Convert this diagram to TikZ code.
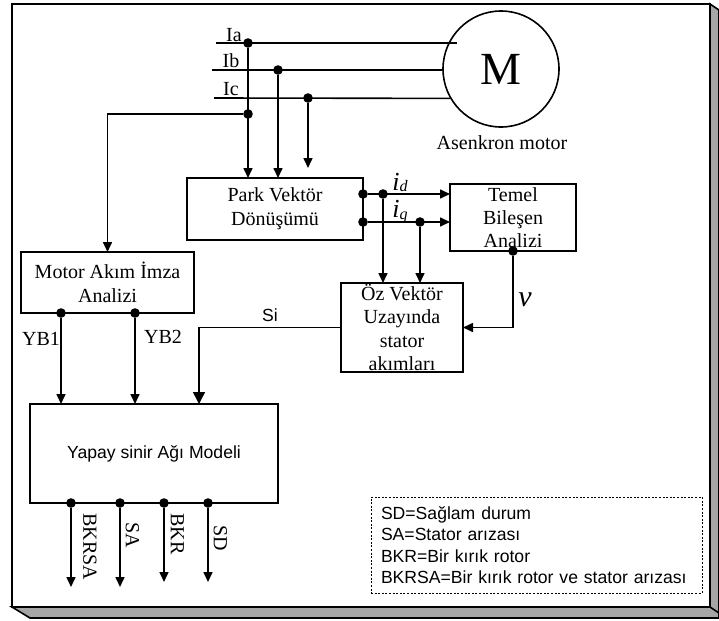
\documentclass[tikz,border=0pt]{standalone}
\usepackage{fontspec}
\setmainfont{Liberation Serif}
\setsansfont{Liberation Sans}
\usetikzlibrary{arrows.meta,positioning,calc}
\definecolor{shadowgray}{RGB}{166,166,166}

\begin{document}
\begin{tikzpicture}[
    x=0.5pt, y=-0.5pt,
    block/.style={rectangle, draw=black, line width=0.8pt, align=center, inner sep=0pt, outer sep=0pt, font=\fontsize{10}{12}\selectfont},
    dot/.style={circle, fill=black, inner sep=0pt, minimum size=4.8pt},
    lbl/.style={inner sep=0pt, font=\fontsize{10}{12}\selectfont},
    sanslbl/.style={inner sep=0pt, font=\sffamily\fontsize{8.8}{10.7}\selectfont},
    curlbl/.style={inner sep=0pt, anchor=base, font=\itshape\fontsize{13}{13}\selectfont},
    wire/.style={line width=0.8pt},
    line/.style={-{Triangle[length=5pt, width=4.5pt]}, line width=0.8pt}
]
\useasboundingbox (0,0) rectangle (719,621);
\filldraw[fill=shadowgray, line width=0.8pt] (710,4) -- (719,10) -- (719,618) -- (30,618) -- (12,607) -- (710,607) -- cycle;
\draw[line width=0.8pt] (710,607) -- (719,613);
\draw[fill=white, line width=1pt] (12,4) rectangle (710,607);

\node[circle, draw, line width=0.8pt, minimum size=58pt, inner sep=0pt, font=\fontsize{23}{25}\selectfont] (motor) at (501,69) {M};
\node[lbl] (motorlab) at (502,143) {Asenkron motor};

\coordinate (aIn) at (216,43);
\coordinate (bIn) at (212,70);
\coordinate (cIn) at (214,98);
\coordinate (aEnd) at (457,43);
\draw[wire] (aIn) -- (aEnd);
\draw[wire] (bIn) -- (bIn -| motor.west);
\draw[wire] (cIn) -- (motor.210);
\node[lbl] (labA) at (234,35) {Ia};
\node[lbl] (labB) at (231,61) {Ib};
\node[lbl] (labC) at (231,89) {Ic};

\node[dot] (dotA) at (248,43) {};
\node[dot] (dotB) at (278,70) {};
\node[dot] (dotC) at (308,98) {};
\node[dot] (dotS) at (248,114) {};
\coordinate (cEnd) at (308,168);

\node[block, minimum width=88pt, minimum height=31pt] (park) at (275,209) {Park Vektör\\Dönüşümü};
\node[block, minimum width=63pt, minimum height=33.5pt, font=\fontsize{10}{11.5}\selectfont] (temel) at (513,217.5) {Temel\\Bileşen\\Analizi};
\node[block, minimum width=61pt, minimum height=44.5pt, font=\fontsize{10}{11.7}\selectfont] (oz) at (402,327.5) {Öz Vektör\\Uzayında\\stator\\akımları};
\node[block, minimum width=86.5pt, minimum height=30.5pt] (mcsa) at (107.5,282.5) {Motor Akım İmza\\Analizi};
\node[block, minimum width=124pt, minimum height=49.5pt, font=\sffamily\fontsize{8.8}{10.7}\selectfont] (ann) at (154,453.5) {Yapay sinir Ağı Modeli};

\draw[line] (dotA) -- (dotA |- park.north);
\draw[line] (dotB) -- (dotB |- park.north);
\draw[line] (dotC) -- (cEnd);
\draw[line] (dotS) -| (mcsa.north);

\node[dot] (pd) at (363,194) {};
\node[dot] (pq) at (363,222) {};
\node[dot] (dd) at (383,194) {};
\node[dot] (dq) at (420,222) {};
\draw[line] (pd) -- (pd -| temel.west);
\draw[line] (pq) -- (pq -| temel.west);
\draw[line] (dd) -- (dd |- oz.north);
\draw[line] (dq) -- (dq |- oz.north);
\node[curlbl] (idlab) at (400,190) {i\raisebox{-1pt}{\fontsize{8}{8}\selectfont d}};
\node[curlbl] (iqlab) at (400,217) {i\raisebox{-1pt}{\fontsize{8}{8}\selectfont q}};

\node[dot] (tv) at (temel.south) {};
\draw[line] (tv) |- (oz.east);
\node[inner sep=0pt, font=\itshape\fontsize{15}{15}\selectfont] (vlab) at (525,300) {v};

\coordinate (siIn) at (199,404);
\draw[-{Triangle[length=6pt, width=6pt]}, line width=0.8pt] (oz.west) -| (siIn);
\node[sanslbl] (silab) at (270,315) {Si};

\node[dot] (yb1) at (61,313) {};
\node[dot] (yb2) at (135,313) {};
\draw[line] (yb1) -- (yb1 |- ann.north);
\draw[line] (yb2) -- (yb2 |- ann.north);
\node[lbl] (yb1lab) at (41,339) {YB1};
\node[lbl] (yb2lab) at (163,337) {YB2};

\foreach \x/\name/\dx/\ytop/\yend in {71/BKRSA/19/513/587, 120/SA/12.5/522/587, 164/BKR/13.5/513/582, 208/SD/12.5/525/582} {
  \node[dot] (out\name) at (\x,503) {};
  \coordinate (end\name) at (\x,\yend);
  \draw[line] (out\name) -- (end\name);
  \node[lbl, rotate=-90, anchor=west] (lab\name) at (\x+\dx,\ytop) {\name};
}

\node[draw, dash pattern=on 1pt off 0.8pt, line width=0.5pt, align=left, text width=155.5pt, inner xsep=5pt, inner ysep=0pt, minimum height=48pt, font=\sffamily\fontsize{8.8}{10.7}\selectfont] (legend) at (536.5,545) {SD=Sağlam durum\\SA=Stator arızası\\BKR=Bir kırık rotor\\BKRSA=Bir kırık rotor ve stator arızası};
\end{tikzpicture}
\end{document}
